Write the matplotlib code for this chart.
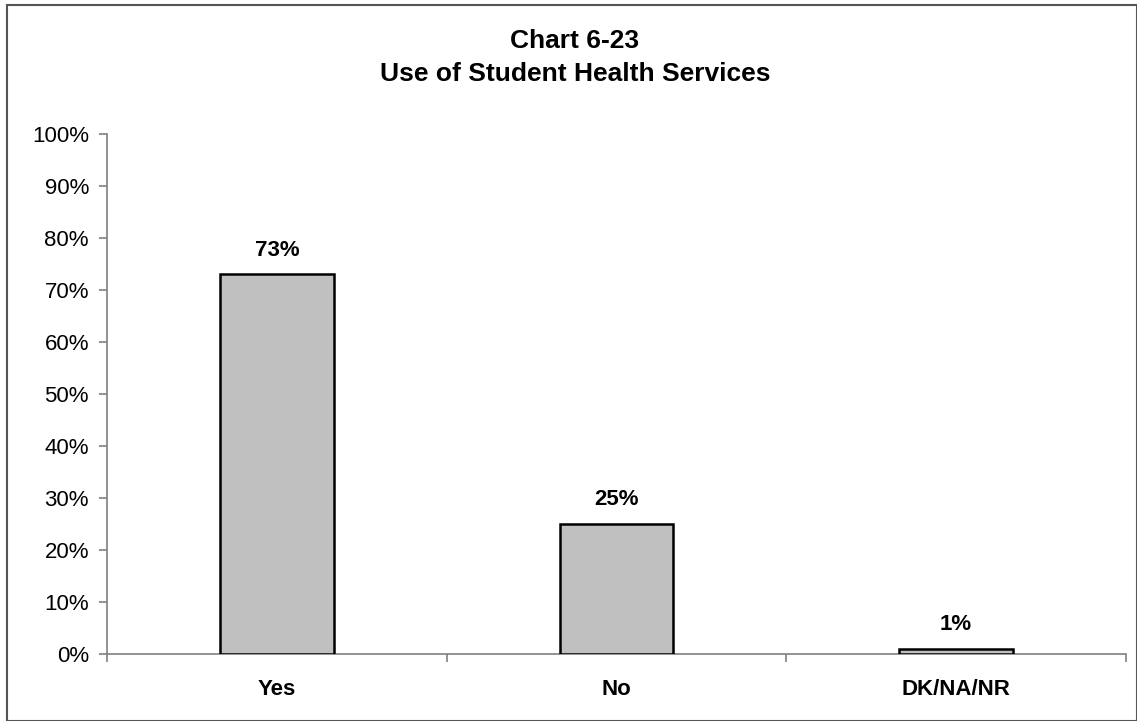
import matplotlib
matplotlib.use('Agg')
import matplotlib.pyplot as plt
from matplotlib.patches import Rectangle
from matplotlib.ticker import FixedLocator, PercentFormatter

# Data
categories = ['Yes', 'No', 'DK/NA/NR']
values = [73, 25, 1]
y_ticks = list(range(0, 101, 10))

plt.rcParams['font.family'] = ['Liberation Sans', 'DejaVu Sans']

W, H = 1137, 721
fig = plt.figure(figsize=(W / 100, H / 100), dpi=100)

# outer chart border
fig.patches.append(Rectangle((7 / W, 0.0), (W - 7.5) / W, (H - 5) / H,
                             transform=fig.transFigure, fill=False,
                             edgecolor='#555555', linewidth=1.5))

ax = fig.add_axes([107 / W, 1 - 654 / H, (1126 - 107) / W, (654 - 134) / H])

x = list(range(len(categories)))
bars = ax.bar(x, values, width=0.335, color='#C0C0C0', edgecolor='black',
              linewidth=1.8, zorder=3)

for b, v in zip(bars, values):
    ax.annotate(f'{v}%', (b.get_x() + b.get_width() / 2, v),
                xytext=(0, 13.5), textcoords='offset points',
                ha='center', va='baseline', fontsize=16, fontweight='bold')

ax.set_xlim(-0.5, len(categories) - 0.5)
ax.set_ylim(0, 100)
ax.set_yticks(y_ticks)
ax.yaxis.set_major_formatter(PercentFormatter(decimals=0))
ax.set_xticks(x)
ax.set_xticklabels(categories, fontsize=16, fontweight='bold')
ax.xaxis.set_minor_locator(FixedLocator([i - 0.5 for i in range(len(categories) + 1)]))
ax.tick_params(axis='x', which='major', length=0, pad=18)
ax.tick_params(axis='x', which='minor', length=6, color='#808080', width=1.2)
ax.tick_params(axis='y', length=6, color='#808080', width=1.2, labelsize=16, pad=7)

for side in ['top', 'right']:
    ax.spines[side].set_visible(False)
for side in ['left', 'bottom']:
    ax.spines[side].set_color('#808080')
    ax.spines[side].set_linewidth(1.2)

fig.text(575 / W, 1 - 41 / H, 'Chart 6-23', ha='center', va='center',
         fontsize=19, fontweight='bold')
fig.text(575 / W, 1 - 74 / H, 'Use of Student Health Services', ha='center',
         va='center', fontsize=19, fontweight='bold')

fig.savefig('out.png', dpi=100)
